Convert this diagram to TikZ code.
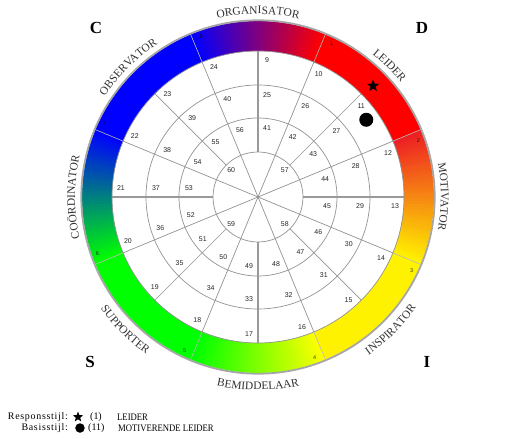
\documentclass[tikz,border=0pt]{standalone}
\usepackage{fontspec}
\usepackage{graphicx}
\setmainfont{Liberation Serif}
\newfontfamily\numfont{Liberation Sans}
\newfontfamily\legfont[LetterSpace=7]{Liberation Serif}
\newcommand\catfont{\fontsize{11.5}{13}\selectfont}
\newcommand\legname[1]{\scalebox{0.87}[1]{#1}}
\usepackage{tikz}
\usetikzlibrary{shapes.geometric, decorations.text, positioning}

\begin{document}
\begin{tikzpicture}[x=1bp, y=1bp,
    grid/.style={draw=gray!85, line width=0.7bp},
    axis/.style={draw=gray!80, line width=2.4bp},
    num/.style={font=\numfont\fontsize{7}{8}\selectfont, text=black!85, inner sep=0pt},
    segnum/.style={font=\numfont\fontsize{5.5}{6}\selectfont, text=black, text opacity=0.75, inner sep=0pt},
    corner/.style={font=\fontsize{17}{20}\selectfont\bfseries},
    legend/.style={font=\fontsize{10}{11}\selectfont, inner sep=0pt},
    cat/.style={decorate, decoration={text along path, text align=center, text color=black!80, text={|\catfont|#1}}},
    starmark/.style={star, star points=5, star point ratio=2.4, fill=black, inner sep=0pt, minimum size=#1},
    dotmark/.style={circle, fill=black, inner sep=0pt, minimum size=#1},
]
\fill[white] (-258,-242) rectangle (254,197);
\useasboundingbox (-258,-242) rectangle (254,197);

\foreach \st/\ca/\cb in {112.5/blue/red, 22.5/red/yellow, -67.5/yellow/green, -157.5/green/blue}
  \foreach \i in {0,...,44} {
    \pgfmathtruncatemacro\pct{round(100*(\i+0.5)/45)}
    \fill[\cb!\pct!\ca] (\st-\i:146) arc[start angle=\st-\i, end angle=\st-\i-1.2, radius=146]
      -- (\st-\i-1.2:176) arc[start angle=\st-\i-1.2, end angle=\st-\i, radius=176] -- cycle;
  }
\foreach \a/\c in {67.5/red, -22.5/yellow, -112.5/green, 157.5/blue}
  \fill[\c] (\a:146) arc[start angle=\a, end angle=\a-45, radius=146]
    -- (\a-45:176) arc[start angle=\a-45, end angle=\a, radius=176] -- cycle;

\draw[gray!70, line width=1.8bp] (0,0) circle[radius=176.7];
\foreach \r in {45,79,112,146} \draw[grid] (0,0) circle[radius=\r];
\foreach \a in {22.5,67.5,...,337.5} {
  \draw[grid] (0,0) -- (\a:146);
  \draw[gray!55, line width=0.6bp] (\a:146) -- (\a:176);
}
\foreach \a in {45,135,225,315} \draw[grid] (\a:45) -- (\a:146);
\foreach \a in {0,90,180,270} \draw[axis] (\a:45) -- (\a:146);

\foreach \k in {0,...,15} {
  \pgfmathsetmacro\ang{90-22.5*\k}
  \pgfmathtruncatemacro\na{9+\k}
  \pgfmathtruncatemacro\nb{25+\k}
  \pgfmathtruncatemacro\nc{41+\k}
  \path (\ang:137) ++(\ang-90:9) node[num] (out\na) {\na};
  \path (\ang:102) ++(\ang-90:9) node[num] (mid\nb) {\nb};
  \path (\ang:69) ++(\ang-90:9) node[num] (inn\nc) {\nc};
}
\foreach \n/\a in {57/45, 58/-45, 59/-135, 60/135} \node[num] (core\n) at (\a:38) {\n};
\foreach \k in {1,...,8} {
  \pgfmathsetmacro\ang{112.5-45*\k}
  \path (\ang:170) ++(\ang-90:9) node[segnum] (seg\k) {\k};
}

\node[starmark=13bp] (respmark) at (44:160) {};
\node[dotmark=14bp] (basemark) at (35.5:133) {};

\path[cat=ORGANISATOR] (130:183) arc[start angle=130, end angle=50, radius=183];
\path[cat=LEIDER] (85:183) arc[start angle=85, end angle=5, radius=183];
\path[cat=MOTI{VA}TOR] (40:183) arc[start angle=40, end angle=-40, radius=183];
\path[cat=OBSER{VA}TOR] (175:183) arc[start angle=175, end angle=95, radius=183];
\path[cat=COÖRDINATOR] (220:183) arc[start angle=220, end angle=140, radius=183];
\path[cat=SUPPORTER] (-175:193) arc[start angle=-175, end angle=-95, radius=193];
\path[cat=BEMIDDELAAR] (-130:193) arc[start angle=-130, end angle=-50, radius=193];
\path[cat=INSPIRATOR] (-85:193) arc[start angle=-85, end angle=-5, radius=193];

\node[corner] (labC) at (-162,169) {C};
\node[corner] (labD) at (164,169) {D};
\node[corner] (labS) at (-168,-165) {S};
\node[corner] (labI) at (169,-165) {I};

\node[legend, font=\legfont\fontsize{10}{11}\selectfont, anchor=east] (resptext) at (-190,-220) {Responsstijl:};
\node[starmark=11bp] (respkey) at (-180,-220) {};
\node[legend, anchor=west] (respnum) at (-168,-220) {(1)};
\node[legend, anchor=west] (respname) at (-141,-220) {\legname{LEIDER}};
\node[legend, font=\legfont\fontsize{10}{11}\selectfont, anchor=east] (basetext) at (-190,-231) {Basisstijl:};
\node[dotmark=9.5bp] (basekey) at (-178,-231) {};
\node[legend, anchor=west] (basenum) at (-170,-231) {(11)};
\node[legend, anchor=west] (basename) at (-140,-231) {\legname{MOTIVERENDE LEIDER}};
\end{tikzpicture}
\end{document}
